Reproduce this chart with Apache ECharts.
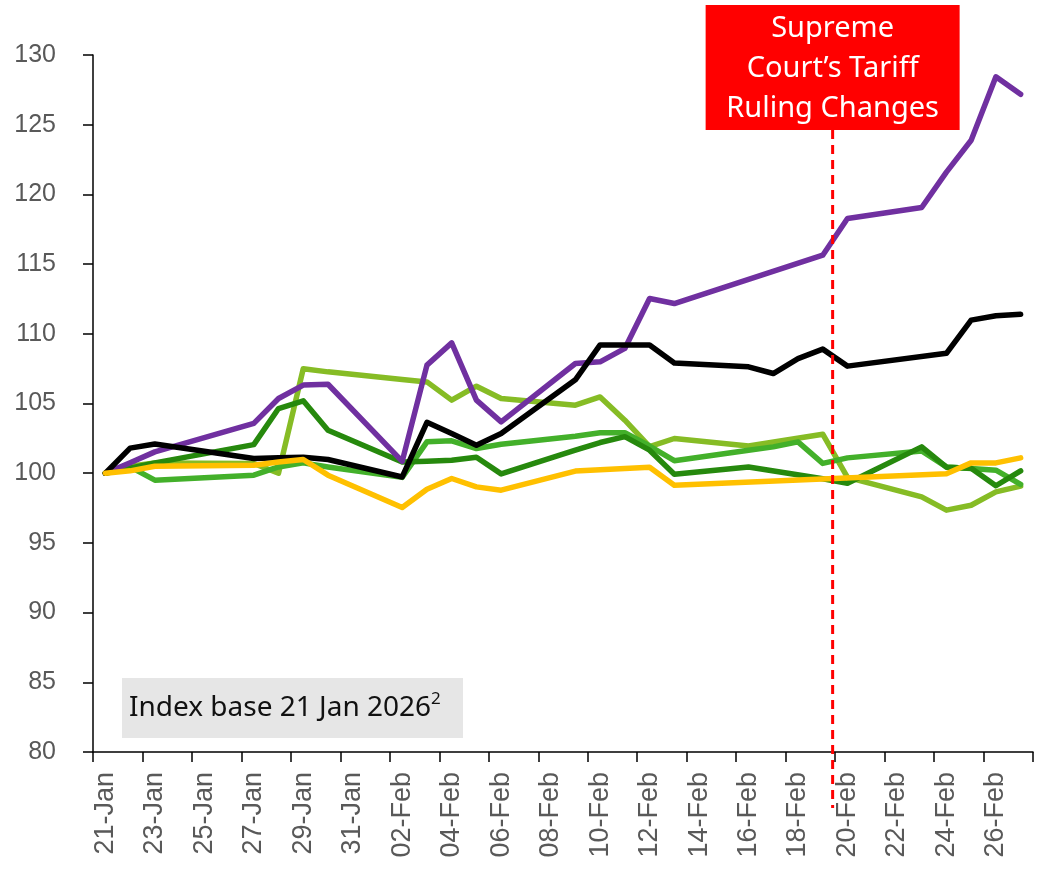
<!DOCTYPE html>
<html>
<head>
<meta charset="utf-8">
<script src="https://cdn.jsdelivr.net/npm/echarts@6/dist/echarts.min.js"></script>
<style>
  html, body { margin: 0; padding: 0; background: #fff; }
  #main { width: 1051px; height: 879px; }
</style>
</head>
<body>
<div id="main"></div>
<script>
// calendar days 21 Jan - 27 Feb 2026 (weekends / holidays are null, lines join across them)
const dates = [
  "21-Jan", "22-Jan", "23-Jan", "24-Jan", "25-Jan", "26-Jan", "27-Jan", "28-Jan", "29-Jan", "30-Jan", "31-Jan",
  "01-Feb", "02-Feb", "03-Feb", "04-Feb", "05-Feb", "06-Feb", "07-Feb", "08-Feb", "09-Feb",
  "10-Feb", "11-Feb", "12-Feb", "13-Feb", "14-Feb", "15-Feb", "16-Feb", "17-Feb", "18-Feb", "19-Feb",
  "20-Feb", "21-Feb", "22-Feb", "23-Feb", "24-Feb", "25-Feb", "26-Feb", "27-Feb"
];

const purple = [100, 100.75, 101.53, null, null, null, 103.57, 105.36, 106.32, 106.38, null,
  null, 100.85, 107.75, 109.35, 105.24, 103.68, null, null, 107.87,
  107.99, 108.95, 112.53, 112.17, null, null, null, null, null, 115.64,
  118.27, null, null, 119.06, 121.6, 123.88, 128.44, 127.18];

const black = [100, 101.8, 102.1, null, null, null, 101.05, 101.1, 101.15, 100.98, null,
  null, 99.73, 103.65, 102.85, 102.0, 102.85, null, null, 106.7,
  109.2, 109.2, 109.2, 107.9, null, null, 107.63, 107.15, 108.22, 108.9,
  107.68, null, null, null, 108.6, 110.98, 111.3, 111.41];

const lightGreen = [100, 100.5, 100.74, null, null, null, 100.7, 100.0, 107.5, 107.27, null,
  null, 106.72, 106.55, 105.24, 106.24, 105.36, null, null, 104.88,
  105.47, 103.8, 101.9, 102.49, null, null, 101.95, null, null, 102.8,
  99.7, null, null, 98.3, 97.35, 97.7, 98.66, 99.07];

const midGreen = [100, 100.45, 99.5, null, null, null, 99.86, 100.45, 100.74, 100.45, null,
  null, 99.7, 102.25, 102.32, 101.77, 102.08, null, null, 102.65,
  102.9, 102.9, 101.95, 100.9, null, null, 101.65, 101.89, 102.25, 100.7,
  101.1, null, null, 101.6, 100.45, 100.33, 100.22, 99.2];

const darkGreen = [100, 100.35, 100.74, null, null, null, 102.05, 104.64, 105.19, 103.08, null,
  null, 100.8, 100.86, 100.93, 101.14, 99.95, null, null, 101.65,
  102.2, 102.62, 101.65, 99.93, null, null, 100.45, null, null, 99.6,
  99.28, null, null, 101.89, 100.43, 100.35, 99.1, 100.17];

const yellow = [100, 100.17, 100.5, null, null, null, 100.57, 100.81, 100.98, 99.86, null,
  null, 97.54, 98.85, 99.62, 99.02, 98.78, null, null, 100.15,
  100.24, 100.33, 100.43, 99.14, null, null, null, null, null, null,
  null, null, null, null, 99.96, 100.74, 100.74, 101.1];

const eventDay = "19-Feb"; // ruling lands part way into the next day's slot
const eventOffset = 0.4;

var chartDom = document.getElementById("main");
var myChart = echarts.init(chartDom);

function lineSeries(name, data, color) {
  return {
    name: name,
    type: "line",
    data: data,
    connectNulls: true,
    showSymbol: false,
    symbol: "none",
    lineStyle: { color: color, width: 5.5, cap: "round", join: "round" },
    itemStyle: { color: color },
  };
}

var axisFont = "'Liberation Sans', Arial, sans-serif";

myChart.setOption({
  animation: false,
  backgroundColor: "#fff",
  grid: { left: 93, right: 18, top: 55, bottom: 127 },
  xAxis: {
    type: "category",
    data: dates,
    boundaryGap: true,
    axisLine: { lineStyle: { color: "#000", width: 1.5 } },
    axisTick: { show: true, interval: 1, length: 10, lineStyle: { color: "#000", width: 1.5 } },
    axisLabel: {
      interval: 1,
      rotate: 90,
      margin: 20,
      color: "#595959",
      fontSize: 27,
      fontFamily: axisFont,
    },
    splitLine: { show: false },
  },
  yAxis: {
    type: "value",
    min: 80,
    max: 130,
    interval: 5,
    axisLine: { show: true, lineStyle: { color: "#000", width: 1.5 } },
    axisTick: { show: true, length: 10, lineStyle: { color: "#000", width: 1.5 } },
    axisLabel: { margin: 37, color: "#595959", fontSize: 25, fontFamily: axisFont },
    splitLine: { show: false },
  },
  series: [
    lineSeries("Light green", lightGreen, "#86BC25"),
    lineSeries("Mid green", midGreen, "#43B02A"),
    lineSeries("Dark green", darkGreen, "#26890D"),
    lineSeries("Purple", purple, "#7030A0"),
    lineSeries("Black", black, "#000000"),
    lineSeries("Yellow", yellow, "#FFC000"),
  ],
});

// annotations placed from the axis scale
var i19 = dates.indexOf(eventDay);
var xa = myChart.convertToPixel({ xAxisIndex: 0 }, dates[i19]);
var xb = myChart.convertToPixel({ xAxisIndex: 0 }, dates[i19 + 1]);
var eventX = xa + eventOffset * (xb - xa);
var axisBottom = myChart.convertToPixel({ yAxisIndex: 0 }, 80);
var boxW = 254, boxTop = 5, boxH = 125;
var noteFont = "'Noto Sans', 'Open Sans', sans-serif";

myChart.setOption({
  graphic: [
    {
      type: "line",
      shape: { x1: eventX, y1: boxTop + boxH, x2: eventX, y2: axisBottom + 56 },
      style: { stroke: "#FF0000", lineWidth: 3, lineDash: [9, 6] },
      z: 10,
    },
    {
      type: "rect",
      shape: { x: eventX - boxW / 2, y: boxTop, width: boxW, height: boxH },
      style: { fill: "#FF0000" },
      z: 11,
    },
    {
      type: "text",
      x: eventX,
      y: boxTop + boxH / 2 + 1,
      style: {
        text: "Supreme\nCourt\u2019s Tariff\nRuling Changes",
        fill: "#fff",
        font: "29px " + noteFont,
        lineHeight: 40,
        align: "center",
        verticalAlign: "middle",
      },
      z: 12,
    },
    {
      type: "rect",
      shape: { x: 122, y: axisBottom - 74, width: 341, height: 60 },
      style: { fill: "#E6E6E6" },
      z: 11,
    },
    {
      type: "text",
      x: 129,
      y: axisBottom - 44,
      style: {
        text: "{a|Index base 21 Jan 2026}{s|2}",
        verticalAlign: "middle",
        rich: {
          a: { fontSize: 28, fontFamily: noteFont, fill: "#111", lineHeight: 34 },
          s: { fontSize: 17, fontFamily: noteFont, fill: "#111", lineHeight: 34, verticalAlign: "top" },
        },
      },
      z: 12,
    },
  ],
});
</script>
</body>
</html>
